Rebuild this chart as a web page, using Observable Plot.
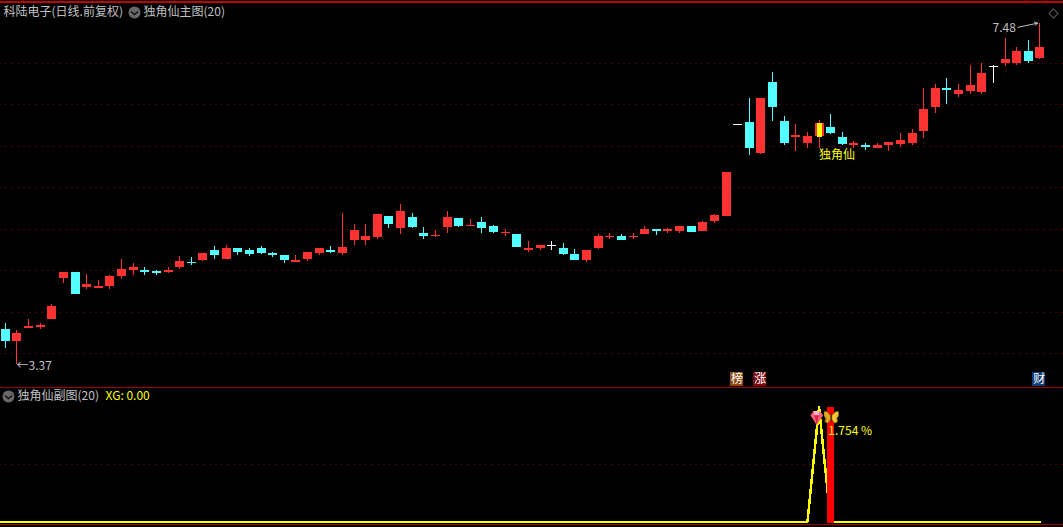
<!DOCTYPE html>
<html>
<head>
<meta charset="utf-8">
<script src="https://cdn.jsdelivr.net/npm/d3@7"></script>
<script src="https://cdn.jsdelivr.net/npm/@observablehq/plot@0.6"></script>
<style>
html,body{margin:0;padding:0;background:#000;overflow:hidden}
#chart{position:relative;width:1063px;height:527px;background:#000;overflow:hidden}
#chart svg{display:block}
#chart svg:last-child{margin-top:-20px;position:relative}
</style>
</head>
<body>
<div id="chart"></div>
<script>
const highs = [3.862,3.778,3.910,3.862,4.090,4.474,4.474,4.450,4.378,4.438,4.630,4.582,4.534,4.498,4.534,4.666,4.654,4.702,4.786,4.798,4.762,4.762,4.786,4.714,4.678,4.678,4.714,4.762,4.786,5.182,5.050,5.050,5.170,5.146,5.290,5.182,5.014,4.978,5.206,5.122,5.110,5.134,5.038,4.990,4.930,4.846,4.798,4.846,4.822,4.750,4.738,4.930,4.942,4.930,4.942,5.026,4.990,5.002,5.026,5.026,5.086,5.170,5.674,6.250,6.562,6.562,6.874,6.346,6.250,6.154,6.298,6.370,6.154,6.046,6.022,6.022,6.034,6.142,6.190,6.682,6.730,6.802,6.730,6.958,6.982,6.958,7.282,7.174,7.258,7.462];
const lows = [3.562,3.370,3.802,3.790,3.910,4.342,4.210,4.270,4.282,4.270,4.390,4.438,4.438,4.438,4.462,4.510,4.558,4.606,4.630,4.630,4.678,4.666,4.690,4.654,4.582,4.594,4.606,4.678,4.702,4.678,4.798,4.798,4.870,5.002,4.930,5.002,4.870,4.894,4.942,5.014,5.026,4.942,4.942,4.906,4.774,4.714,4.738,4.738,4.678,4.618,4.594,4.750,4.870,4.858,4.870,4.930,4.918,4.942,4.942,4.954,4.966,5.062,5.146,6.238,5.878,5.890,6.286,5.998,5.926,5.962,5.962,6.130,5.998,5.962,5.938,5.962,5.926,5.974,5.998,6.082,6.382,6.490,6.574,6.610,6.610,6.742,6.946,6.958,6.982,7.030];
const opens = [3.790,3.646,3.808,3.814,3.910,4.402,4.474,4.294,4.282,4.306,4.426,4.498,4.498,4.486,4.474,4.534,4.594,4.618,4.738,4.630,4.762,4.738,4.762,4.702,4.678,4.594,4.630,4.702,4.738,4.702,4.858,4.858,4.894,5.146,5.002,5.134,4.942,4.906,5.014,5.122,5.026,5.074,5.026,4.942,4.930,4.738,4.762,4.798,4.762,4.690,4.618,4.762,4.894,4.906,4.894,4.930,4.990,4.966,4.966,5.026,4.966,5.086,5.146,6.250,6.274,5.902,6.754,6.286,6.094,6.022,6.106,6.214,6.094,5.998,5.998,5.962,5.998,6.010,6.022,6.166,6.454,6.682,6.610,6.646,6.634,6.946,6.982,6.982,7.126,7.042];
const closes = [3.646,3.742,3.826,3.838,4.066,4.474,4.210,4.330,4.306,4.426,4.510,4.534,4.474,4.462,4.498,4.606,4.582,4.702,4.678,4.762,4.714,4.690,4.702,4.678,4.618,4.618,4.714,4.762,4.714,4.774,4.978,4.906,5.170,5.050,5.206,5.014,4.906,4.918,5.134,5.026,5.038,5.002,4.954,4.954,4.774,4.762,4.798,4.786,4.690,4.618,4.738,4.906,4.906,4.858,4.906,4.990,4.966,4.990,5.026,4.954,5.074,5.158,5.674,6.238,5.962,6.562,6.454,6.022,6.118,6.106,6.262,6.142,6.010,6.022,5.974,5.998,6.034,6.058,6.142,6.430,6.682,6.658,6.658,6.718,6.862,6.934,7.030,7.126,7.006,7.174];
const dojiDays = [47,63,85];
const markedDay = 70;
const gridPrices = [6.976,6.484,5.980,5.488,4.984,4.492,3.988,3.496];
const xgSpikeDay = 70;
const xgBarDay = 71;
const xgPeak = 100;
const xgGrid = [50];
const xgValues = highs.map((_, i) => (i === xgSpikeDay ? xgPeak : 0));
const badges = [
  {day:62.95, label:"榜", bg:"#8a4a12"},
  {day:64.95, label:"涨", bg:"#7a0a10"},
  {day:88.95, label:"财", bg:"#0f3c73"}
];

const RED = "#ff3232", CYAN = "#54ffff", WHITE = "#ffffff", GRID = "#a00000", TXT = "#c0c0c0", YEL = "#ffff00";
const FONT = "'Noto Sans CJK SC','Noto Sans',sans-serif";
const days = d3.range(highs.length);
const STEP = 11.625;
const xDomain = [-4.8/STEP, (1063-4.8)/STEP];
const barLo = -4/STEP, barHi = 5/STEP;
const Y_NUDGE = 0.006;
const SUB_NUDGE = 0.43;
const colorOf = i => dojiDays.includes(i) ? WHITE : closes[i] > opens[i] ? RED : CYAN;

function chevron(){ return {draw(c){ c.moveTo(-3.5,-1); c.lineTo(0,2); c.lineTo(3.5,-1); }}; }

const gem = "data:image/svg+xml," + encodeURIComponent(`<svg xmlns="http://www.w3.org/2000/svg" viewBox="0 0 12 14"><polygon points="3,1 9,1 12,5 6,14 0,5" fill="#f0607c"/><polygon points="3,1 9,1 8,5 4,5" fill="#ffb8c4"/><polygon points="4,5 8,5 6,14" fill="#e02048"/></svg>`);
const fly = "data:image/svg+xml," + encodeURIComponent(`<svg xmlns="http://www.w3.org/2000/svg" viewBox="0 0 15 13"><polygon points="7,5 3,1 0,1 0,5 2,8 1,11 4,13 7,9" fill="#dca81e" stroke="#7a5a10" stroke-width=".8"/><polygon points="8,5 12,1 15,1 15,5 13,8 14,11 11,13 8,9" fill="#f5c832" stroke="#7a5a10" stroke-width=".8"/><rect x="7" y="3" width="1" height="8" fill="#3a2508"/></svg>`);

const mainPanel = Plot.plot({
  width:1063, height:388, margin:0,
  x:{domain:xDomain, axis:null},
  y:{domain:[3.076,7.732], axis:null},
  style:{background:"#000", fontFamily:FONT},
  marks:[
    Plot.ruleY(gridPrices,{stroke:GRID, strokeDasharray:"1 5", strokeDashoffset:0.5, strokeWidth:1}),
    Plot.ruleY([7.714],{stroke:"#c00000", strokeWidth:2, shapeRendering:"crispEdges"}),
    Plot.ruleX([1.55,87.8,89.55],{y1:7.732,y2:7.714,stroke:"#c00000",shapeRendering:"crispEdges"}),
    Plot.ruleX(days,{x:i=>i, y1:i=>lows[i], y2:i=>highs[i], stroke:colorOf, strokeWidth:1, shapeRendering:"crispEdges"}),
    Plot.rect(days,{x1:i=>i+barLo, x2:i=>i+barHi, y1:i=>opens[i]-Y_NUDGE, y2:i=>closes[i]-Y_NUDGE, fill:colorOf, shapeRendering:"crispEdges"}),
    Plot.rect([markedDay],{x1:i=>i-2/STEP, x2:i=>i+3/STEP, y1:()=>6.094-Y_NUDGE, y2:()=>6.262-Y_NUDGE, fill:YEL, shapeRendering:"crispEdges"}),
    Plot.text(["←3.37"],{x:()=>0.97, y:()=>3.346, text:d=>d, textAnchor:"start", fill:TXT, fontSize:12}),
    Plot.text(["7.48"],{x:()=>84.92, y:()=>7.40, text:d=>d, textAnchor:"start", fill:TXT, fontSize:12}),
    Plot.arrow([0],{x1:()=>87.1, y1:()=>7.41, x2:()=>88.8, y2:()=>7.46, stroke:TXT, strokeWidth:1, headLength:5, bend:0}),
    Plot.text(["独角仙"],{x:()=>markedDay, y:()=>5.878, text:d=>d, textAnchor:"start", fill:YEL, fontSize:12}),
    Plot.text(["科陆电子(日线.前复权)"],{frameAnchor:"top-left", dx:3, dy:12, text:d=>d, lineAnchor:"middle", textAnchor:"start", fill:TXT, fontSize:12}),
    Plot.dot([0],{frameAnchor:"top-left", dx:134, dy:12, r:6, fill:"#686868"}),
    Plot.dot([0],{frameAnchor:"top-left", dx:134, dy:12, symbol:chevron(), r:6, fill:"none", stroke:"#111", strokeWidth:1.4}),
    Plot.text(["独角仙主图(20)"],{frameAnchor:"top-left", dx:143, dy:12, text:d=>d, lineAnchor:"middle", textAnchor:"start", fill:TXT, fontSize:12}),
    Plot.dot([0],{frameAnchor:"top-right", dx:-10, dy:13, symbol:"square", r:3.6, rotate:45, fill:"none", stroke:"#5a5a5a", strokeWidth:1})
  ]
});

const subPanel = Plot.plot({
  width:1063, height:159, margin:0,
  x:{domain:xDomain, axis:null},
  y:{domain:[-4.783,133.478], axis:null},
  style:{background:"transparent", fontFamily:FONT},
  marks:[
    Plot.rect(badges,{x1:d=>d.day-0.56, x2:d=>d.day+0.56, y1:()=>129.57-SUB_NUDGE+0.43, y2:()=>118.26-SUB_NUDGE+0.43, fill:d=>d.bg, shapeRendering:"crispEdges"}),
    Plot.text(badges,{x:"day", y:()=>123.9, text:"label", fill:WHITE, fontSize:12}),
    Plot.ruleY([116.96],{stroke:"#a00000", strokeWidth:1, shapeRendering:"crispEdges"}),
    Plot.ruleY(xgGrid,{stroke:GRID, strokeDasharray:"1 5", strokeDashoffset:0.5, strokeWidth:1}),
    Plot.ruleY([-2.17],{stroke:"#a00000", strokeWidth:1, shapeRendering:"crispEdges"}),
    Plot.ruleY([0],{x1:xDomain[0], x2:0, stroke:YEL, strokeWidth:2.5, shapeRendering:"crispEdges"}),
    Plot.lineY(xgValues,{x:(d,i)=>i, y:d=>d, stroke:YEL, strokeWidth:2.5, shapeRendering:"crispEdges"}),
    Plot.rect([xgBarDay],{x1:i=>i-3/STEP, x2:i=>i+4/STEP, y1:()=>-1.3-SUB_NUDGE, y2:()=>xgPeak-SUB_NUDGE, fill:"#ff0000", shapeRendering:"crispEdges"}),
    Plot.image([0],{x:()=>69.8, y:()=>90.9, width:13, height:15, src:()=>gem}),
    Plot.image([0],{x:()=>71.05, y:()=>91.3, width:15, height:13, src:()=>fly}),
    Plot.text(["1.754 %"],{x:()=>70.8, y:()=>78.7, text:d=>d, textAnchor:"start", fill:YEL, fontSize:12}),
    Plot.dot([0],{frameAnchor:"top-left", dx:8, dy:28, r:6, fill:"#686868"}),
    Plot.dot([0],{frameAnchor:"top-left", dx:8, dy:28, symbol:chevron(), r:6, fill:"none", stroke:"#111", strokeWidth:1.4}),
    Plot.text(["独角仙副图(20)"],{frameAnchor:"top-left", dx:17, dy:28, text:d=>d, lineAnchor:"middle", textAnchor:"start", fill:TXT, fontSize:12}),
    Plot.text(["XG: 0.00"],{frameAnchor:"top-left", dx:105, dy:28, text:d=>d, lineAnchor:"middle", textAnchor:"start", fill:YEL, fontSize:12})
  ]
});

document.getElementById("chart").append(mainPanel, subPanel);
</script>
</body>
</html>
